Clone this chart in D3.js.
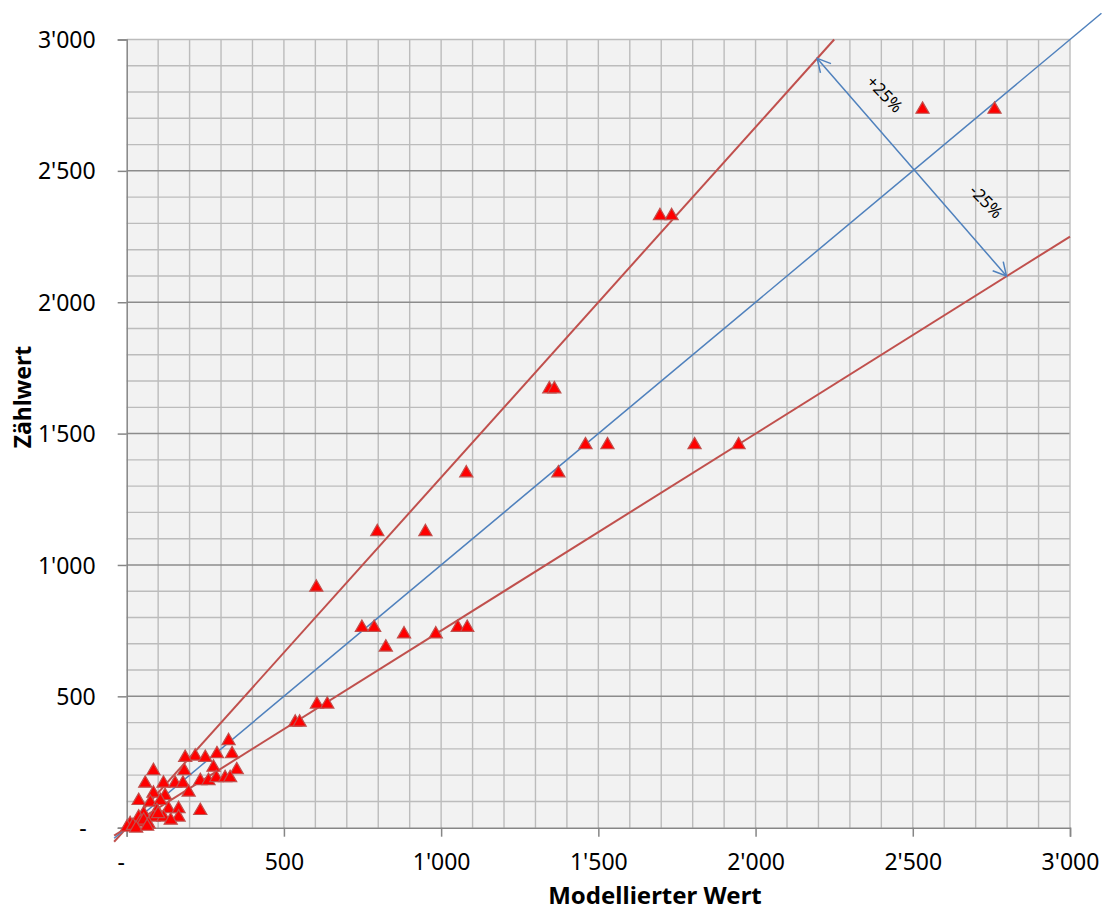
<!DOCTYPE html>
<html><head><meta charset="utf-8">
<script src="https://cdn.jsdelivr.net/npm/d3@7"></script>
<style>body{margin:0;background:#fff}</style>
</head><body>
<svg id="c" width="1108" height="910"></svg>
<script>
// Data (Modellierter Wert, Zählwert)
const modelled = [2531,2760,1696,1733,1344,1360,1459,1529,1806,1946,1080,1373,797,950,603,748,787,882,824,983,1053,1083,605,638,536,550,
 324,335,218,186,250,287,85,183,276,350,59,117,154,179,234,260,285,313,329,85,122,197,38,75,107,133,96,165,165,234,54,38,85,117,11,43,1,54,20,30,70,100,140,65];
const counted  = [2741,2741,2336,2336,1677,1677,1464,1464,1464,1464,1357,1357,1133,1133,922,769,769,744,694,744,769,769,477,477,408,408,
 338,288,279,274,274,288,224,224,237,227,176,176,176,176,186,186,197,197,197,138,129,142,110,104,110,79,72,79,47,72,60,47,47,47,22,28,9,35,15,5,20,60,35,12];
const xTicks = [0,500,1000,1500,2000,2500,3000];
const yTicks = [0,500,1000,1500,2000,2500,3000];
const tickLabels = ["-","500","1'000","1'500","2'000","2'500","3'000"];
const refLines = [
  {name:"+25%", slope:4/3, x0:-40, x1:2250, color:"#c0504d", w:2},
  {name:"1:1",  slope:1,   x0:-40, x1:3100, color:"#4f81bd", w:1.5},
  {name:"-25%", slope:0.75,x0:-40, x1:3000, color:"#c0504d", w:2}
];
const arrowEnds = [[2196,2928],[2798,2100]];
const arrowLabels = [{t:"+25%",x:2410,y:2792},{t:"-25%",x:2733,y:2383}];

const svg = d3.select("#c");
const x = d3.scaleLinear().domain([0,3000]).range([126.7,1070]);
const y = d3.scaleLinear().domain([0,3000]).range([827.7,39.5]);
const font = "'Noto Sans', 'Open Sans', sans-serif";

svg.append("rect").attr("x",x(0)).attr("y",y(3000)).attr("width",x(3000)-x(0)).attr("height",y(0)-y(3000)).attr("fill","#f2f2f2");
const minor = d3.range(100,3000,100);
svg.append("g").selectAll("line").data(minor).join("line")
  .attr("x1",d=>x(d)).attr("x2",d=>x(d)).attr("y1",y(0)).attr("y2",y(3000))
  .attr("stroke","#bcbcbc").attr("stroke-width",1.4);
svg.append("g").selectAll("line").data(minor).join("line")
  .attr("y1",d=>y(d)).attr("y2",d=>y(d)).attr("x1",x(0)).attr("x2",x(3000))
  .attr("stroke",d=>d%500===0?"#8c8c8c":"#bcbcbc").attr("stroke-width",d=>d%500===0?1.5:1.4);
svg.append("line").attr("x1",x(0)).attr("x2",x(3000)).attr("y1",y(3000)).attr("y2",y(3000)).attr("stroke","#bcbcbc").attr("stroke-width",1.4);
svg.append("line").attr("x1",x(3000)).attr("x2",x(3000)).attr("y1",y(0)).attr("y2",y(3000)).attr("stroke","#bcbcbc").attr("stroke-width",1.4);

// axes
const xAxis = d3.axisBottom(x).tickValues(xTicks).tickSize(9).tickFormat((d,i)=>tickLabels[i]);
const gx = svg.append("g").attr("transform",`translate(0,${y(0)})`).call(xAxis);
gx.select(".domain").attr("stroke","#868686").attr("stroke-width",1.5);
gx.selectAll(".tick line").attr("stroke","#868686").attr("stroke-width",1.5);
gx.selectAll("text").attr("font-family",font).attr("font-size",23).attr("fill","#000").attr("dy",null).attr("y",42)
  .attr("dx",d=>d===0?-6:0);
const yAxis = d3.axisLeft(y).tickValues(yTicks).tickSize(9).tickFormat((d,i)=>tickLabels[i]);
const gy = svg.append("g").attr("transform",`translate(${x(0)},0)`).call(yAxis);
gy.select(".domain").attr("stroke","#868686").attr("stroke-width",1.5);
gy.selectAll(".tick line").attr("stroke","#868686").attr("stroke-width",1.5);
gy.selectAll("text").attr("font-family",font).attr("font-size",23).attr("fill","#000").attr("x",d=>d===0?-40:-31).attr("dy","0.35em");

// reference lines
svg.append("g").selectAll("line").data(refLines).join("line")
  .attr("x1",d=>x(d.x0)).attr("y1",d=>y(d.x0*d.slope)).attr("x2",d=>x(d.x1)).attr("y2",d=>y(d.x1*d.slope))
  .attr("stroke",d=>d.color).attr("stroke-width",d=>d.w);

// double arrow
const defs = svg.append("defs");
defs.append("marker").attr("id","ah").attr("viewBox","-14 -8 16 16").attr("refX",0).attr("refY",0)
  .attr("markerWidth",16).attr("markerHeight",16).attr("markerUnits","userSpaceOnUse").attr("orient","auto-start-reverse")
  .append("path").attr("d","M-13,-7L0,0L-13,7").attr("fill","none").attr("stroke","#4f81bd").attr("stroke-width",1.5);
svg.append("line").attr("x1",x(arrowEnds[0][0])).attr("y1",y(arrowEnds[0][1])).attr("x2",x(arrowEnds[1][0])).attr("y2",y(arrowEnds[1][1]))
  .attr("stroke","#4f81bd").attr("stroke-width",1.5).attr("marker-start","url(#ah)").attr("marker-end","url(#ah)");
svg.append("g").selectAll("text").data(arrowLabels).join("text")
  .attr("transform",d=>`translate(${x(d.x)},${y(d.y)}) rotate(46)`)
  .attr("text-anchor","middle").attr("dy","0.35em").attr("font-family",font).attr("font-size",17).text(d=>d.t);

// points
const pts = modelled.map((m,i)=>[m,counted[i]]);
const triSize = 75;
const triOff = Math.sqrt(triSize/(Math.sqrt(3)*3))/2;
const tri = d3.symbol().type(d3.symbolTriangle).size(triSize);
svg.append("g").selectAll("path").data(pts).join("path")
  .attr("d",tri).attr("transform",d=>`translate(${x(d[0])},${y(d[1])+triOff})`)
  .attr("fill","#ff0000").attr("stroke","#c0504d").attr("stroke-width",1.2);

// titles
svg.append("text").attr("x",655).attr("y",904).attr("text-anchor","middle").attr("font-family",font)
  .attr("font-weight","bold").attr("font-size",24).text("Modellierter Wert");
svg.append("text").attr("transform","translate(31,397) rotate(-90)").attr("text-anchor","middle").attr("font-family",font)
  .attr("font-weight","bold").attr("font-size",23).text("Zählwert");
</script>
</body></html>
